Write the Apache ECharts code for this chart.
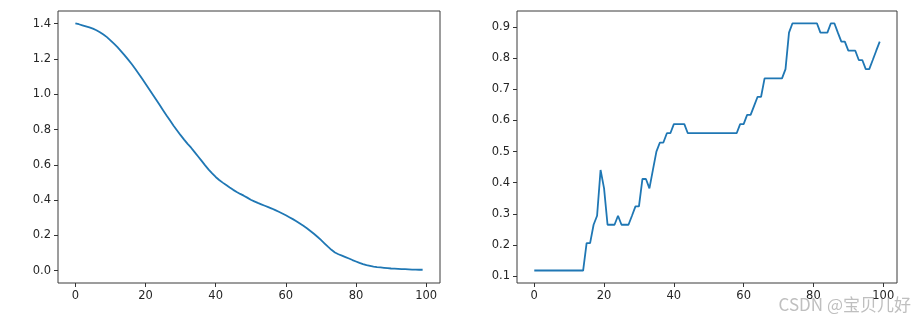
<!DOCTYPE html>
<html>
<head>
<meta charset="utf-8">
<script src="https://cdn.jsdelivr.net/npm/echarts@6/dist/echarts.min.js"></script>
<style>
html,body{margin:0;padding:0;background:#fff;}
#c{width:915px;height:322px;}
</style>
</head>
<body>
<div id="c"></div>
<script>
// Loss values (left plot), epochs 0..99
const lossValues = [
1.402,1.397,1.391,1.385,1.379,1.372,1.363,1.352,1.339,1.324,
1.306,1.287,1.267,1.245,1.222,1.198,1.173,1.146,1.118,1.089,
1.060,1.030,1.000,0.970,0.940,0.910,0.880,0.851,0.822,0.795,
0.768,0.743,0.719,0.697,0.672,0.647,0.622,0.597,0.573,0.551,
0.531,0.514,0.499,0.485,0.471,0.458,0.446,0.435,0.425,0.414,
0.402,0.393,0.384,0.376,0.368,0.360,0.352,0.343,0.334,0.324,
0.314,0.303,0.292,0.280,0.267,0.254,0.240,0.225,0.209,0.192,
0.174,0.155,0.136,0.118,0.103,0.093,0.085,0.077,0.069,0.060,
0.052,0.044,0.037,0.031,0.027,0.023,0.020,0.018,0.016,0.014,
0.012,0.011,0.010,0.009,0.008,0.007,0.006,0.006,0.005,0.005
];
// Accuracy values (right plot), epochs 0..99
const accValues = [
0.118,0.118,0.118,0.118,0.118,0.118,0.118,0.118,0.118,0.118,
0.118,0.118,0.118,0.118,0.118,0.206,0.206,0.265,0.294,0.441,
0.382,0.265,0.265,0.265,0.294,0.265,0.265,0.265,0.294,0.324,
0.324,0.412,0.412,0.382,0.441,0.500,0.529,0.529,0.559,0.559,
0.588,0.588,0.588,0.588,0.559,0.559,0.559,0.559,0.559,0.559,
0.559,0.559,0.559,0.559,0.559,0.559,0.559,0.559,0.559,0.588,
0.588,0.618,0.618,0.647,0.676,0.676,0.735,0.735,0.735,0.735,
0.735,0.735,0.765,0.882,0.912,0.912,0.912,0.912,0.912,0.912,
0.912,0.912,0.882,0.882,0.882,0.912,0.912,0.882,0.853,0.853,
0.824,0.824,0.824,0.794,0.794,0.765,0.765,0.794,0.824,0.853
];
const xTicks = [0,20,40,60,80,100];
const lossTicks = [0,0.2,0.4,0.6,0.8,1.0,1.2,1.4];
const accTicks = [0.1,0.2,0.3,0.4,0.5,0.6,0.7,0.8,0.9];

const toPairs = arr => arr.map((v,i)=>[i,v]);

const labelStyle = {color:'#262626', fontSize:11.5, fontFamily:'DejaVu Sans'};
function xAxis(gi){
  return {type:'value', gridIndex:gi, min:-4.95, max:103.95,
    axisLine:{show:false, onZero:false}, splitLine:{show:false},
    axisTick:{show:true, inside:false, length:4, lineStyle:{color:'#333'}, customValues:xTicks},
    axisLabel:Object.assign({margin:7, customValues:xTicks, formatter:v=>String(v)}, labelStyle)};
}
function yAxis(gi,min,max,ticks,fmt){
  return {type:'value', gridIndex:gi, min:min, max:max,
    axisLine:{show:false, onZero:false}, splitLine:{show:false},
    axisTick:{show:true, inside:false, length:4, lineStyle:{color:'#333'}, customValues:ticks},
    axisLabel:Object.assign({margin:7, customValues:ticks, formatter:fmt}, labelStyle)};
}

const chart = echarts.init(document.getElementById('c'), null, {renderer:'canvas'});
chart.setOption({
  animation:false,
  backgroundColor:'#fff',
  grid:[
    {left:58, top:11, width:382, height:272, show:true, borderColor:'#3a3a3a', borderWidth:1, backgroundColor:'transparent'},
    {left:517, top:11, width:380, height:272, show:true, borderColor:'#3a3a3a', borderWidth:1, backgroundColor:'transparent'}
  ],
  xAxis:[xAxis(0), xAxis(1)],
  yAxis:[
    yAxis(0,-0.0701,1.4721,lossTicks,v=>v.toFixed(1)),
    yAxis(1,0.0779,0.9515,accTicks,v=>v.toFixed(1))
  ],
  series:[
    {type:'line', xAxisIndex:0, yAxisIndex:0, data:toPairs(lossValues), showSymbol:false,
     lineStyle:{color:'#1f77b4', width:1.8}, itemStyle:{color:'#1f77b4'}},
    {type:'line', xAxisIndex:1, yAxisIndex:1, data:toPairs(accValues), showSymbol:false,
     lineStyle:{color:'#1f77b4', width:1.8}, itemStyle:{color:'#1f77b4'}}
  ],
  graphic:[
    {type:'text', right:4, top:296, style:{text:'CSDN @宝贝儿好', fill:'rgba(175,175,175,0.8)',
      font:'17px "Noto Sans CJK SC"'}}
  ]
});
</script>
</body>
</html>
